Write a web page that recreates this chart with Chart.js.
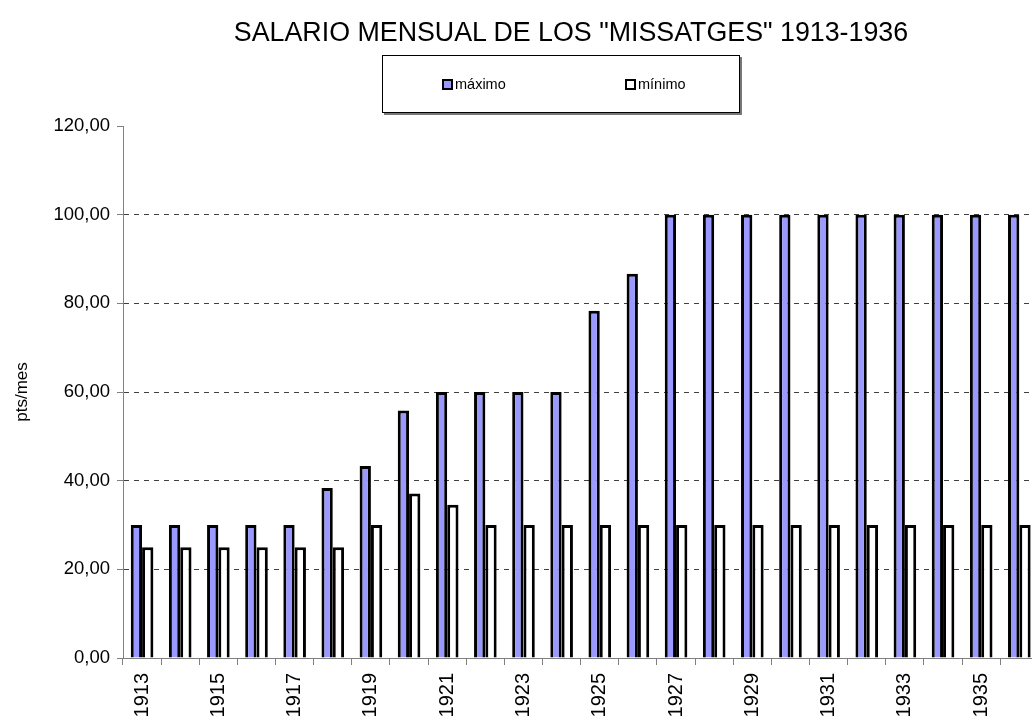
<!DOCTYPE html>
<html>
<head>
<meta charset="utf-8">
<script src="https://cdn.jsdelivr.net/npm/chart.js@4/dist/chart.umd.min.js"></script>
<style>
  html, body { margin: 0; padding: 0; background: #fff; overflow: hidden; width: 1032px; height: 720px; }
  #wrap { position: absolute; left: 0; top: 0; width: 1060px; height: 760px; }
  #title { position: absolute; left: 0; top: 17px; width: 1142px; text-align: center;
           font-family: "Liberation Sans", Arial, sans-serif; font-size: 26.8px; color: #000; white-space: nowrap; }
  #legend { position: absolute; left: 382px; top: 55px; width: 356px; height: 56px;
            border: 1px solid #000; box-shadow: 2px 2px 0 #777; background: #fff;
            font-family: "Liberation Sans", Arial, sans-serif; font-size: 14.5px; color: #000; }
  .item { position: absolute; top: 20px; line-height: 16px; white-space: nowrap; }
  .sw { display: inline-block; width: 7px; height: 7px; border: 2px solid #000; vertical-align: -1px; margin-right: 2px; }
</style>
</head>
<body>
<div id="wrap"><canvas id="c" width="1060" height="760"></canvas></div>
<div id="title">SALARIO MENSUAL DE LOS "MISSATGES" 1913-1936</div>
<div id="legend">
  <div class="item" id="l0" style="left:59px"><span class="sw" style="background:#9999FF"></span>máximo</div>
  <div class="item" id="l1" style="left:242px"><span class="sw" style="background:#FFFFFF"></span>mínimo</div>
</div>
<script>
const years = ["1913","1914","1915","1916","1917","1918","1919","1920","1921","1922","1923","1924",
               "1925","1926","1927","1928","1929","1930","1931","1932","1933","1934","1935","1936"];
const maximo = [30,30,30,30,30,38.33,43.33,55.83,60,60,60,60,
                78.33,86.67,100,100,100,100,100,100,100,100,100,100];
const minimo = [25,25,25,25,25,25,30,37.08,34.58,30,30,30,
                30,30,30,30,30,30,30,30,30,30,30,30];
const seriesNames = ["máximo","mínimo"];
const yAxisTitle = "pts/mes";

const W = 1060, H = 760;
const AREA_LEFT = 123, AREA_RIGHT = 1038.4, AREA_TOP = 126, AREA_BOTTOM = 658;
const FONT = '"Liberation Sans", Arial, sans-serif';

new Chart(document.getElementById('c'), {
  type: 'bar',
  data: {
    labels: years,
    datasets: [
      { label: seriesNames[0], data: maximo, backgroundColor: '#9999FF', borderColor: '#000', borderWidth: 3,
        borderSkipped: 'start', categoryPercentage: 0.593, barPercentage: 1.0 },
      { label: seriesNames[1], data: minimo, backgroundColor: '#FFFFFF', borderColor: '#000', borderWidth: 3,
        borderSkipped: 'start', categoryPercentage: 0.593, barPercentage: 1.0 }
    ]
  },
  options: {
    responsive: false,
    animation: false,
    devicePixelRatio: 1,
    layout: { padding: { left: 0, top: AREA_TOP, right: W - AREA_RIGHT, bottom: 0 } },
    plugins: { legend: { display: false }, title: { display: false }, tooltip: { enabled: false } },
    scales: {
      x: {
        offset: true,
        grid: { offset: true, drawOnChartArea: false, drawTicks: true, tickLength: 7, tickColor: '#808080', lineWidth: 1 },
        border: { color: '#808080', width: 1 },
        ticks: {
          autoSkip: false, minRotation: 90, maxRotation: 90, padding: 8,
          color: '#000', font: { family: FONT, size: 20 },
          callback: function (v, i) { return i % 2 === 0 ? years[i] : ''; }
        },
        afterFit: function (s) { s.height = H - AREA_BOTTOM; }
      },
      y: {
        min: 0, max: 120,
        grid: {
          drawTicks: true, tickLength: 6, tickColor: '#808080',
          color: function (ctx) { return (ctx.tick && (ctx.tick.value === 0 || ctx.tick.value === 120)) ? 'rgba(0,0,0,0)' : '#404040'; },
          lineWidth: 1
        },
        border: { color: '#808080', width: 1, dash: [5, 5] },
        ticks: {
          stepSize: 20, padding: 7, color: '#000', font: { family: FONT, size: 18.5 },
          callback: function (v) { return v.toFixed(2).replace('.', ','); }
        },
        title: { display: true, text: yAxisTitle, color: '#000', font: { family: FONT, size: 17 }, padding: { top: 12, bottom: 0 } },
        afterFit: function (s) { s.width = AREA_LEFT; }
      }
    }
  }
});
</script>
</body>
</html>
